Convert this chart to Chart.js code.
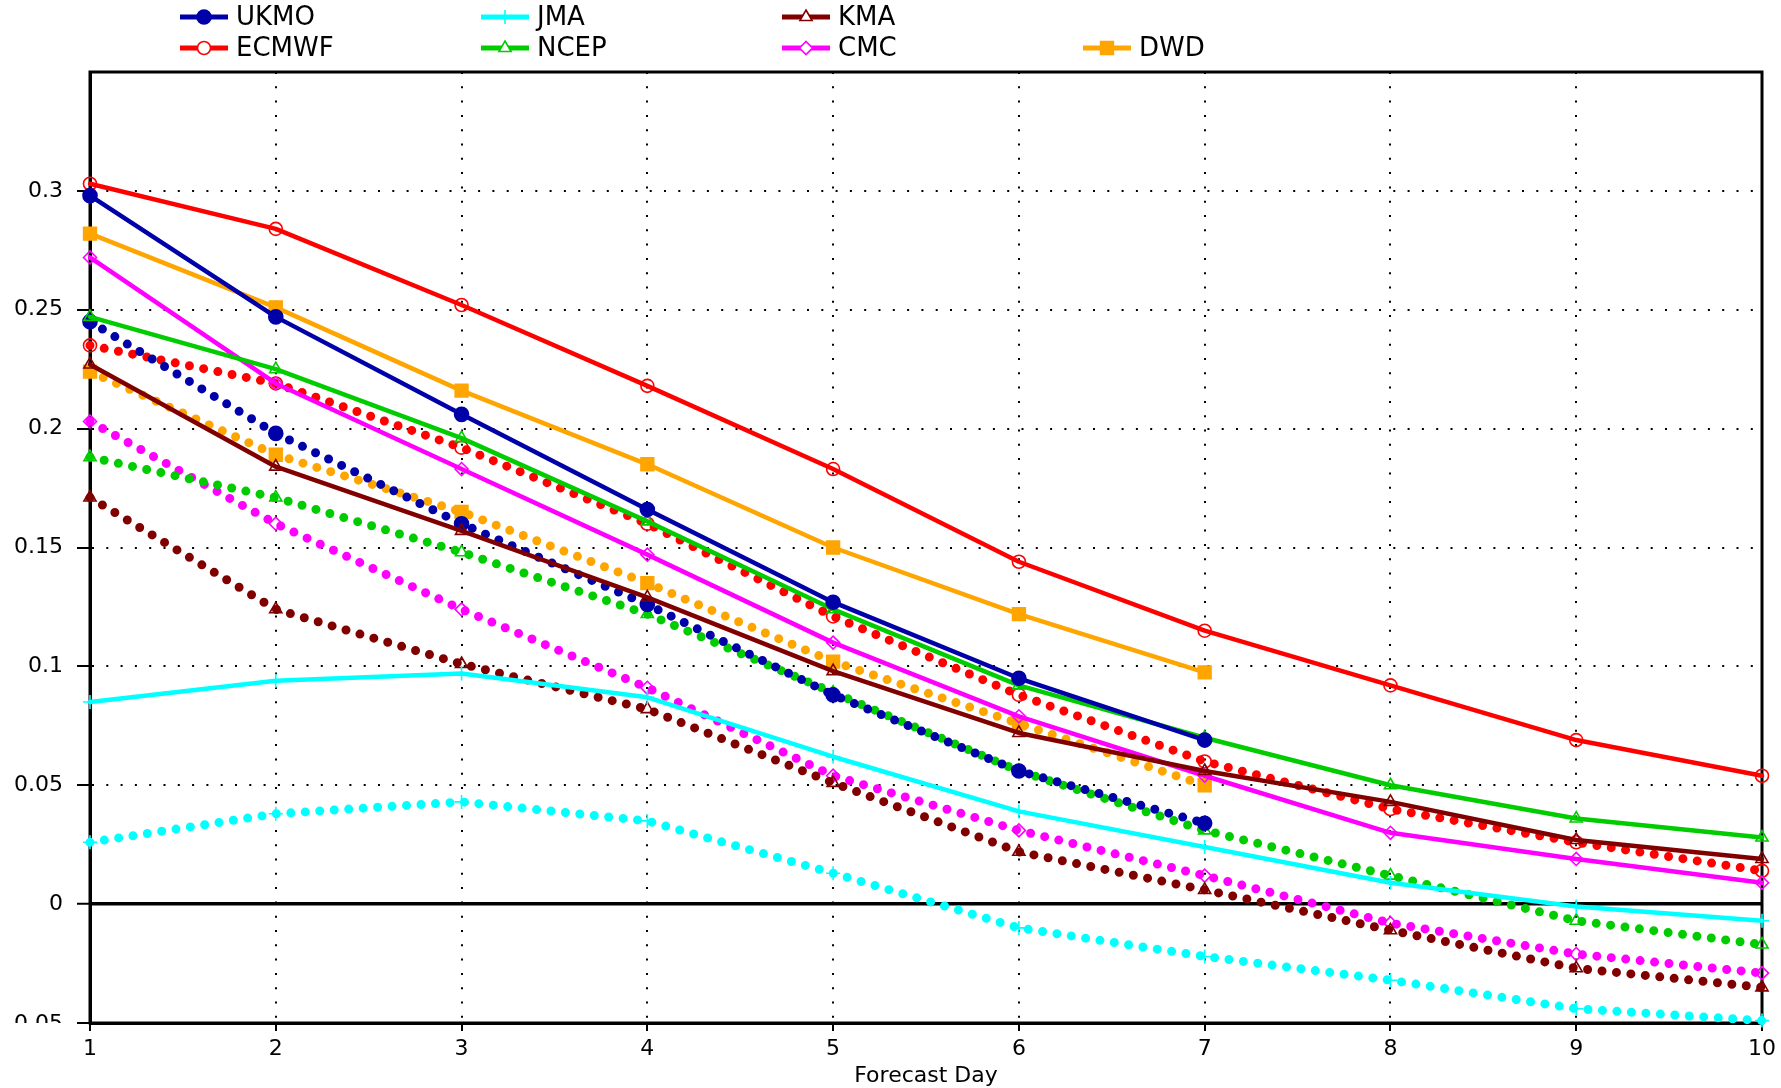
<!DOCTYPE html>
<html>
<head>
<meta charset="utf-8">
<script src="https://cdn.jsdelivr.net/npm/chart.js@4.4.1/dist/chart.umd.min.js"></script>
<style>
    body { margin: 0; background: #fff; }
    #chartDiv { position: relative; width: 1781px; height: 1088px; }
</style>
</head>
<body>
<div id="chartDiv"><canvas id="skillChart"></canvas></div>
<script>
// forecast days on the x axis
const days = ['1', '2', '3', '4', '5', '6', '7', '8', '9', '10'];

// y axis range
const yMin = -0.05;
const yMax = 0.35;
const yStep = 0.05;
const xTitle = 'Forecast Day';

const models = ['UKMO', 'ECMWF', 'JMA', 'NCEP', 'KMA', 'CMC', 'DWD'];

// solid = full line, dotted = dotted line
const ukmoSolid = [0.298, 0.247, 0.206, 0.166, 0.127, 0.095, 0.069];
const ukmoDotted = [0.245, 0.198, 0.160, 0.126, 0.088, 0.056, 0.034];
const ecmwfSolid = [0.303, 0.284, 0.252, 0.218, 0.183, 0.144, 0.115, 0.092, 0.069, 0.054];
const ecmwfDotted = [0.235, 0.219, 0.192, 0.160, 0.121, 0.088, 0.060, 0.040, 0.026, 0.014];
const jmaSolid = [0.085, 0.094, 0.097, 0.087, 0.062, 0.039, 0.024, 0.009, -0.001, -0.007];
const jmaDotted = [0.026, 0.038, 0.043, 0.035, 0.013, -0.010, -0.022, -0.032, -0.044, -0.049];
const ncepSolid = [0.247, 0.225, 0.196, 0.161, 0.124, 0.092, 0.070, 0.050, 0.036, 0.028];
const ncepDotted = [0.188, 0.171, 0.148, 0.122, 0.089, 0.056, 0.031, 0.012, -0.007, -0.017];
const kmaSolid = [0.227, 0.184, 0.157, 0.129, 0.098, 0.072, 0.056, 0.043, 0.027, 0.019];
const kmaDotted = [0.171, 0.124, 0.101, 0.082, 0.051, 0.022, 0.006, -0.011, -0.027, -0.035];
const cmcSolid = [0.272, 0.219, 0.183, 0.147, 0.110, 0.079, 0.054, 0.030, 0.019, 0.009];
const cmcDotted = [0.203, 0.160, 0.124, 0.091, 0.054, 0.031, 0.012, -0.008, -0.021, -0.029];
const dwdSolid = [0.282, 0.251, 0.216, 0.185, 0.150, 0.122, 0.0975];
const dwdDotted = [0.224, 0.189, 0.165, 0.135, 0.102, 0.076, 0.050];

const solidData = [ukmoSolid, ecmwfSolid, jmaSolid, ncepSolid, kmaSolid, cmcSolid, dwdSolid];
const dottedData = [ukmoDotted, ecmwfDotted, jmaDotted, ncepDotted, kmaDotted, cmcDotted, dwdDotted];

// look of each model
const styles = {
    UKMO:  { color: '#0000a8', point: 'circle',   radius: 7,   filled: true },
    ECMWF: { color: '#ff0000', point: 'circle',   radius: 6.5, filled: false },
    JMA:   { color: '#00ffff', point: 'cross',    radius: 7,   filled: false },
    NCEP:  { color: '#00cc00', point: 'triangle', radius: 7,   filled: false },
    KMA:   { color: '#800000', point: 'triangle', radius: 7,   filled: false },
    CMC:   { color: '#ff00ff', point: 'rectRot',  radius: 6.5, filled: false },
    DWD:   { color: '#ffa500', point: 'rect',     radius: 9,   filled: true }
};

function isNear(a, b) {
    return Math.abs(a - b) < 1e-9;
}

function makeSet(name, values, dotted) {
    const st = styles[name];
    return {
        label: name,
        data: values,
        dotted: dotted,
        borderColor: st.color,
        backgroundColor: st.color,
        borderWidth: dotted ? 9 : 4.5,
        borderDash: dotted ? [0, 14.5] : [],
        borderCapStyle: 'round',
        borderJoinStyle: 'round',
        tension: 0,
        fill: false,
        clip: false,
        pointStyle: st.point,
        pointRadius: st.radius,
        pointHoverRadius: st.radius,
        pointBorderWidth: 1.6,
        pointBorderColor: st.color,
        pointBackgroundColor: st.filled ? st.color : 'rgba(0,0,0,0)'
    };
}

let datasets = [];
models.forEach((m, i) => {
    datasets.push(makeSet(m, solidData[i], false));
});
models.forEach((m, i) => {
    datasets.push(makeSet(m, dottedData[i], true));
});

// frame round the plot + the clipped bottom label
const framePlugin = {
    id: 'frame',
    beforeDatasetsDraw(chart) {
        const a = chart.chartArea;
        const ctx = chart.ctx;
        ctx.save();
        ctx.strokeStyle = '#000';
        ctx.lineWidth = 3;
        ctx.strokeRect(a.left, a.top, a.right - a.left, a.bottom - a.top);
        ctx.restore();
    },
    afterDraw(chart) {
        const ctx = chart.ctx;
        const y = chart.scales.y.getPixelForValue(yMin);
        ctx.save();
        ctx.beginPath();
        ctx.rect(0, 0, chart.chartArea.left, y);
        ctx.clip();
        ctx.font = '22px "DejaVu Sans"';
        ctx.fillStyle = '#000';
        ctx.textAlign = 'right';
        ctx.textBaseline = 'middle';
        ctx.fillText(String(yMin), 63, y + 1);
        ctx.restore();
    }
};

// legend in 4 columns, 2 rows, column by column
const legendPlugin = {
    id: 'gridLegend',
    afterDraw(chart) {
        const ctx = chart.ctx;
        let slot = 0;
        chart.data.datasets.forEach(ds => {
            if (ds.dotted) return;
            if (slot === 6) slot = 7;
            const col = Math.floor(slot / 2);
            const row = slot % 2;
            const x0 = 180 + col * 301;
            const y0 = 17 + row * 31;

            ctx.save();
            ctx.strokeStyle = ds.borderColor;
            ctx.lineWidth = 5;
            ctx.beginPath();
            ctx.moveTo(x0, y0);
            ctx.lineTo(x0 + 48, y0);
            ctx.stroke();

            ctx.fillStyle = ds.pointBackgroundColor === 'rgba(0,0,0,0)' ? '#fff' : ds.pointBackgroundColor;
            ctx.strokeStyle = ds.pointBorderColor;
            ctx.lineWidth = ds.pointBorderWidth;
            Chart.helpers.drawPoint(ctx, {
                pointStyle: ds.pointStyle,
                radius: ds.pointRadius,
                borderWidth: ds.pointBorderWidth,
                rotation: 0
            }, x0 + 24, y0);

            ctx.font = '26px "DejaVu Sans"';
            ctx.fillStyle = '#000';
            ctx.textAlign = 'left';
            ctx.textBaseline = 'middle';
            ctx.fillText(ds.label, x0 + 56, y0 + 1);
            ctx.restore();
            slot++;
        });
    }
};

var ctx = document.getElementById('skillChart');

const skillChart = new Chart(ctx, {
    type: 'line',
    data: {
        labels: days,
        datasets: datasets
    },
    plugins: [framePlugin, legendPlugin],
    options: {
        responsive: true,
        maintainAspectRatio: false,
        animation: false,
        events: [],
        layout: {
            padding: { top: 72, right: 19, bottom: 0, left: 0 }
        },
        plugins: {
            legend: { display: false },
            tooltip: { enabled: false }
        },
        scales: {
            x: {
                type: 'category',
                offset: false,
                afterFit: function (scale) { scale.height = 65; },
                border: {
                    display: true,
                    color: '#000',
                    width: 3,
                    dash: [2, 12.3]
                },
                grid: {
                    color: (c) => (c.index === 0 || c.index === days.length - 1) ? 'rgba(0,0,0,0)' : '#000',
                    lineWidth: 2,
                    drawTicks: true,
                    tickLength: 8,
                    tickColor: '#000',
                    tickWidth: 2,
                    tickBorderDash: []
                },
                ticks: {
                    color: '#000',
                    padding: 5,
                    maxRotation: 0,
                    autoSkip: false,
                    font: { family: 'DejaVu Sans', size: 22 }
                },
                title: {
                    display: true,
                    text: xTitle,
                    color: '#000',
                    padding: { top: 0, bottom: -1 },
                    font: { family: 'DejaVu Sans', size: 22 }
                }
            },
            y: {
                min: yMin,
                max: yMax,
                afterFit: function (scale) { scale.width = 90; },
                border: {
                    display: true,
                    color: '#000',
                    width: 3,
                    dash: (c) => (c.tick && isNear(c.tick.value, 0)) ? [] : [2, 12.3]
                },
                grid: {
                    color: (c) => {
                        if (isNear(c.tick.value, yMin) || isNear(c.tick.value, yMax)) return 'rgba(0,0,0,0)';
                        return '#000';
                    },
                    lineWidth: (c) => isNear(c.tick.value, 0) ? 3.5 : 2,
                    drawTicks: true,
                    tickLength: 13,
                    tickColor: (c) => isNear(c.tick.value, yMax) ? 'rgba(0,0,0,0)' : '#000',
                    tickWidth: 2,
                    tickBorderDash: []
                },
                ticks: {
                    stepSize: yStep,
                    color: '#000',
                    padding: 14,
                    font: { family: 'DejaVu Sans', size: 22 },
                    callback: function (value) {
                        if (isNear(value, yMin) || isNear(value, yMax)) return '';
                        return String(Math.round(value * 100) / 100);
                    }
                }
            }
        }
    }
});
</script>
</body>
</html>
